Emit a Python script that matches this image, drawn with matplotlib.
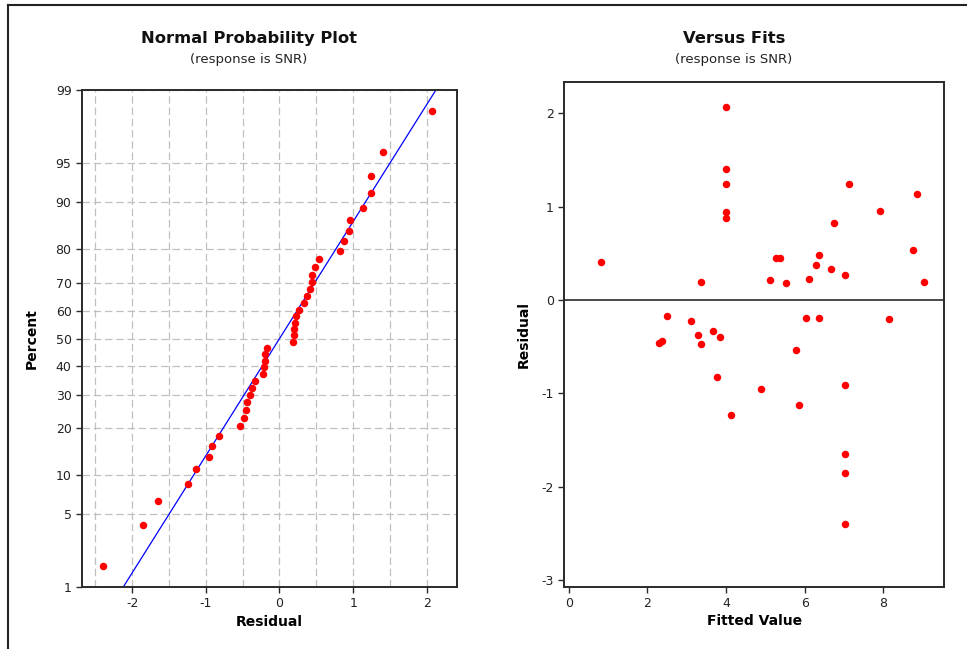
"""Minitab-style residual plots: normal probability plot and residuals versus fits."""

from statistics import NormalDist

import matplotlib

matplotlib.use("Agg")
import matplotlib.pyplot as plt
import numpy as np
from matplotlib.lines import Line2D
from matplotlib.ticker import FixedLocator, MultipleLocator

fitted = [
    0.83, 4.01, 4.01, 4.01, 4.01, 4.01, 3.36, 2.51, 2.30, 2.38,
    3.10, 3.29, 3.36, 3.66, 3.84, 3.76, 4.12, 7.13, 8.86, 7.92,
    6.75, 8.76, 5.28, 5.38, 6.36, 6.28, 6.66, 7.02, 5.12, 5.52,
    6.11, 9.03, 6.03, 6.36, 8.13, 5.77, 4.90, 5.85, 7.03, 7.03,
    7.03, 7.03,
]
residuals = [
    0.41, 2.07, 1.40, 1.24, 0.94, 0.88, 0.196, -0.168, -0.457, -0.44,
    -0.225, -0.37, -0.475, -0.33, -0.40, -0.82, -1.236, 1.24, 1.136, 0.954,
    0.825, 0.536, 0.447, 0.447, 0.486, 0.375, 0.336, 0.268, 0.21, 0.18,
    0.225, 0.196, -0.19, -0.19, -0.204, -0.53, -0.95, -1.13, -0.915, -1.65,
    -1.85, -2.40,
]

percent_ticks = [1, 5, 10, 20, 30, 40, 50, 60, 70, 80, 90, 95, 99]
resid_ticks = [-2, -1, 0, 1, 2]
fit_ticks = [0, 2, 4, 6, 8]
vs_resid_ticks = [-3, -2, -1, 0, 1, 2]

RED = "#ff0000"
SPINE = "#2a2a2a"
GRID = "#c0c0c0"

nd = NormalDist()


def _to_z(p):
    arr = np.asarray(p, dtype=float)
    flat = [nd.inv_cdf(min(max(v / 100.0, 1e-9), 1 - 1e-9)) for v in arr.ravel()]
    return np.array(flat).reshape(arr.shape)


def _to_pct(z):
    arr = np.asarray(z, dtype=float)
    flat = [nd.cdf(v) * 100.0 for v in arr.ravel()]
    return np.array(flat).reshape(arr.shape)


def _style(ax):
    for side in ax.spines.values():
        side.set_color(SPINE)
        side.set_linewidth(1.4)
    ax.tick_params(axis="both", which="major", direction="out", length=4,
                   width=1, color=SPINE, labelsize=9, labelcolor="#222222")


plt.rcParams["font.family"] = ["DejaVu Sans"]
plt.rcParams["axes.unicode_minus"] = False
fig = plt.figure(figsize=(9.67, 6.49), dpi=100)

# ---- Normal probability plot ----
ax1 = fig.add_axes([0.0848, 0.0955, 0.3878, 0.7658])
res = np.sort(np.array(residuals))
n = len(res)
ranks = np.arange(1, n + 1)
pct = (ranks - 0.3) / (n + 0.4) * 100.0
ax1.set_yscale("function", functions=(_to_z, _to_pct))
ax1.set_ylim(1, 99)
ax1.set_xlim(-2.68, 2.41)
ax1.yaxis.set_major_locator(FixedLocator(percent_ticks))
ax1.set_yticklabels([str(t) for t in percent_ticks])
ax1.yaxis.set_minor_locator(FixedLocator([]))
ax1.xaxis.set_major_locator(FixedLocator(resid_ticks))
ax1.set_xticklabels([str(t) for t in resid_ticks])
ax1.xaxis.set_minor_locator(MultipleLocator(0.5))
ax1.tick_params(axis="x", which="minor", length=0)
ax1.grid(True, which="both", axis="x", color=GRID, linestyle=(0, (6, 3)), linewidth=0.9)
ax1.grid(True, which="major", axis="y", color=GRID, linestyle=(0, (6, 3)), linewidth=0.9)
ax1.set_axisbelow(True)

mu = res.mean()
sd = res.std(ddof=1)
z_end = nd.inv_cdf(0.99)
ax1.plot([mu - sd * z_end, mu + sd * z_end], [1, 99], color="#0000ff", lw=0.9,
         clip_on=True, zorder=2)
ax1.plot(res, pct, "o", color=RED, ms=5.4, mec="none", zorder=3)
_style(ax1)
ax1.set_xlabel("Residual", fontsize=10, fontweight="bold", labelpad=3)
ax1.set_ylabel("Percent", fontsize=10, fontweight="bold", labelpad=12)

fig.text(0.2575, 0.9414, "Normal Probability Plot", ha="center", va="center",
         fontsize=11.8, fontweight="bold", color="#111111")
fig.text(0.2575, 0.9076, "(response is SNR)", ha="center", va="center",
         fontsize=9.5, color="#222222")

# ---- Versus fits ----
ax2 = fig.add_axes([0.5836, 0.0963, 0.3926, 0.7778])
ax2.set_xlim(-0.11, 9.54)
ax2.set_ylim(-3.07, 2.34)
ax2.axhline(0, color=SPINE, lw=1.2, zorder=1)
ax2.plot(fitted, residuals, "o", color=RED, ms=5.4, mec="none", zorder=3)
ax2.xaxis.set_major_locator(FixedLocator(fit_ticks))
ax2.yaxis.set_major_locator(FixedLocator(vs_resid_ticks))
_style(ax2)
ax2.set_xlabel("Fitted Value", fontsize=10, fontweight="bold", labelpad=3)
ax2.set_ylabel("Residual", fontsize=10, fontweight="bold", labelpad=8)

fig.text(0.759, 0.9414, "Versus Fits", ha="center", va="center",
         fontsize=11.8, fontweight="bold", color="#111111")
fig.text(0.759, 0.9076, "(response is SNR)", ha="center", va="center",
         fontsize=9.5, color="#222222")

# window frame (left and top edges)
fx = 8 / 967
fy = 1 - 5 / 649
fig.add_artist(Line2D([fx, fx], [0, fy], transform=fig.transFigure, color="#222222", lw=1.5))
fig.add_artist(Line2D([fx, 1], [fy, fy], transform=fig.transFigure, color="#222222", lw=1.5))

fig.savefig("out.png", dpi=100)
plt.close(fig)
